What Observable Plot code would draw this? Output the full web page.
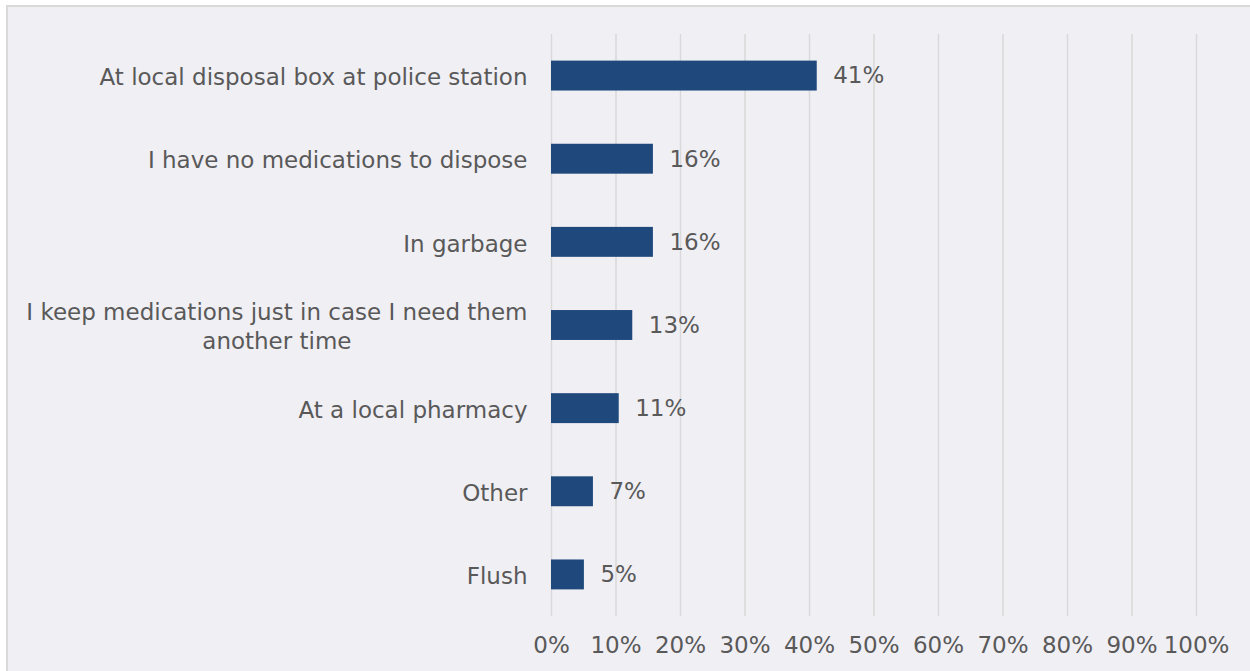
<!DOCTYPE html>
<html>
<head>
<meta charset="utf-8">
<script src="https://cdn.jsdelivr.net/npm/d3@7"></script>
<script src="https://cdn.jsdelivr.net/npm/@observablehq/plot@0.6"></script>
<style>
  html, body { margin: 0; padding: 0; background: #ffffff; overflow: hidden; }
  #frame {
    position: absolute; left: 6px; top: 5px; width: 1250px; height: 670px;
    background: #f0eff4; border-left: 2px solid #d9d9d9; border-top: 2px solid #d9d9d9;
  }
  svg text { font-family: "DejaVu Sans", sans-serif; }
</style>
</head>
<body>
<div id="frame"></div>
<script>
const categories = [
  "At local disposal box at police station",
  "I have no medications to dispose",
  "In garbage",
  "I keep medications just in case I need them\nanother time",
  "At a local pharmacy",
  "Other",
  "Flush"
];
const values = [41.2, 15.8, 15.8, 12.6, 10.5, 6.5, 5.1];
const xTicks = [0, 10, 20, 30, 40, 50, 60, 70, 80, 90, 100];

const data = categories.map((c, i) => ({category: c, value: values[i]}));
const fontSize = 23;
const textColor = "#595959";

const chart = Plot.plot({
  width: 1244,
  height: 666,
  marginLeft: 543,
  marginRight: 56,
  marginTop: 27,
  marginBottom: 57,
  style: {background: "transparent", fontSize: fontSize + "px", fontFamily: "DejaVu Sans, sans-serif", color: textColor, overflow: "visible"},
  x: {domain: [0, 100]},
  y: {domain: categories, paddingInner: 0.64, paddingOuter: 0.32, align: 0.5, round: false},
  marks: [
    Plot.ruleX(xTicks, {stroke: "#d9d9d9", strokeWidth: 1.5}),
    Plot.barX(data, {x: "value", y: "category", fill: "#1f497c"}),
    Plot.text(data, {x: "value", y: "category", text: d => Math.round(d.value) + "%", dx: 16, textAnchor: "start", fill: textColor, fontSize: fontSize}),
    Plot.axisX(xTicks, {tickSize: 0, tickPadding: 20, tickFormat: d => d + "%", fill: textColor, fontSize: fontSize, anchor: "bottom", label: null}),
    Plot.axisY({tickSize: 0, tickPadding: 24, fill: textColor, fontSize: fontSize, lineWidth: 100, lineHeight: 1.26, label: null})
  ]
});
chart.style.position = "absolute";
chart.style.left = "0px";
chart.style.top = "0px";
document.getElementById("frame").appendChild(chart);

// center multi-line y labels like the reference
d3.select(chart).selectAll("text").each(function() {
  const tspans = this.querySelectorAll("tspan");
  if (tspans.length > 1) {
    const bb = this.getBBox();
    const cx = bb.x + bb.width / 2;
    this.setAttribute("text-anchor", "middle");
    tspans.forEach(t => { if (t.hasAttribute("x")) t.setAttribute("x", cx); });
    const bb2 = this.getBBox();
    const shift = cx - (bb2.x + bb2.width / 2);
    this.setAttribute("transform", (this.getAttribute("transform") || "") + ` translate(${shift},0)`);
  }
});
</script>
</body>
</html>
